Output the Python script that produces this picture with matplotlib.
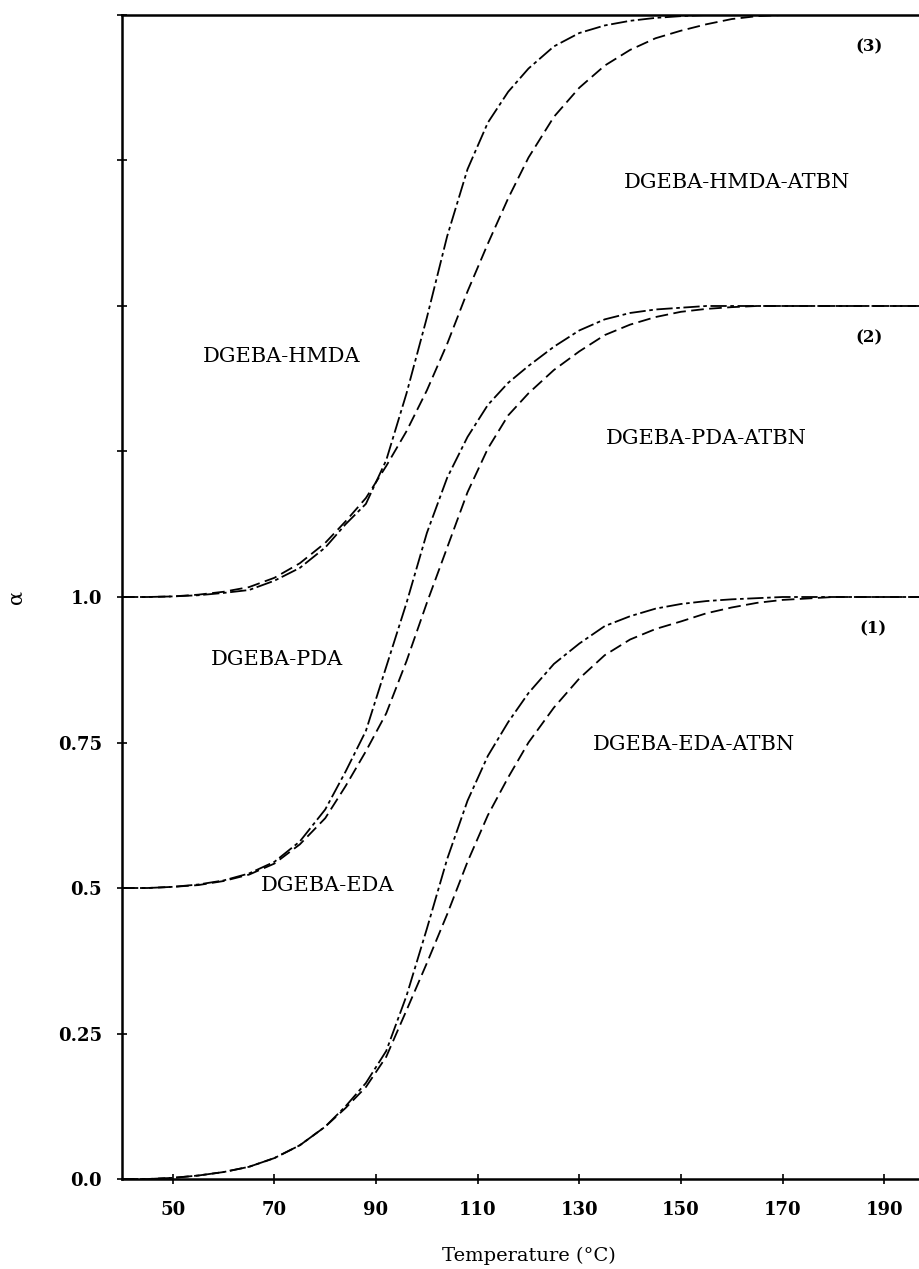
import matplotlib
matplotlib.use('Agg')
import matplotlib.pyplot as plt
import numpy as np

# temperature grid (deg C) the curves were read at
temps = [40, 45, 50, 55, 60, 65, 70, 75, 80, 84, 88, 92, 96, 100, 104, 108,
         112, 116, 120, 125, 130, 135, 140, 145, 150, 155, 160, 165, 170, 180, 190, 200]

# conversion curves, each plotted with its own vertical offset
eda = [0, 0, 0.002, 0.006, 0.012, 0.021, 0.036, 0.058, 0.09, 0.125, 0.165, 0.22, 0.315, 0.43,
       0.55, 0.65, 0.727, 0.785, 0.835, 0.885, 0.92, 0.95, 0.967, 0.98, 0.988, 0.993, 0.996,
       0.998, 1.0, 1.0, 1.0, 1.0]
eda_atbn = [0, 0, 0.002, 0.006, 0.012, 0.021, 0.036, 0.058, 0.09, 0.122, 0.158, 0.21, 0.29, 0.371,
            0.455, 0.545, 0.625, 0.69, 0.75, 0.81, 0.86, 0.9, 0.927, 0.945, 0.958, 0.972, 0.982,
            0.99, 0.995, 1.0, 1.0, 1.0]
pda = [0, 0, 0.002, 0.006, 0.013, 0.025, 0.045, 0.08, 0.135, 0.2, 0.27, 0.38, 0.49, 0.61,
       0.705, 0.775, 0.83, 0.868, 0.897, 0.93, 0.958, 0.977, 0.988, 0.994, 0.997, 1.0, 1.0,
       1.0, 1.0, 1.0, 1.0, 1.0]
pda_atbn = [0, 0, 0.002, 0.005, 0.012, 0.023, 0.042, 0.075, 0.12, 0.175, 0.235, 0.3, 0.39, 0.49,
            0.585, 0.68, 0.755, 0.812, 0.85, 0.89, 0.922, 0.95, 0.968, 0.981, 0.99, 0.995, 0.998,
            1.0, 1.0, 1.0, 1.0, 1.0]
hmda = [0, 0, 0.001, 0.003, 0.007, 0.012, 0.028, 0.05, 0.085, 0.125, 0.16, 0.235, 0.35, 0.48,
        0.62, 0.735, 0.815, 0.868, 0.908, 0.946, 0.969, 0.982, 0.99, 0.995, 0.998, 1.0, 1.0,
        1.0, 1.0, 1.0, 1.0, 1.0]
hmda_atbn = [0, 0, 0.001, 0.004, 0.009, 0.017, 0.033, 0.058, 0.093, 0.13, 0.17, 0.225, 0.285, 0.355,
             0.435, 0.525, 0.607, 0.685, 0.755, 0.825, 0.875, 0.913, 0.94, 0.96, 0.973, 0.984, 0.993,
             0.998, 1.0, 1.0, 1.0, 1.0]

offsets = [0.0, 0.5, 1.0]
xticks = [50, 70, 90, 110, 130, 150, 170, 190]
yticks = [0, 0.25, 0.5, 0.75, 1.0, 1.25, 1.5, 1.75, 2.0]
ytick_labels = ['0.0', '0.25', '0.5', '0.75', '1.0', '', '', '', '']

fig = plt.figure(figsize=(9.2, 12.69), dpi=100)
# axis runs 40-200 but the right edge is cut off like the scanned page
ax = fig.add_axes([0.1326, 0.0709, 0.8837, 0.9173])

T = np.array(temps)
pairs = [(eda, eda_atbn), (pda, pda_atbn), (hmda, hmda_atbn)]
for off, (pure, atbn) in zip(offsets, pairs):
    ax.plot(T, np.array(pure) + off, color='black', lw=1.3, ls=(0, (9, 2, 2, 2)))
    ax.plot(T, np.array(atbn) + off, color='black', lw=1.3, ls=(0, (7, 3)))

ax.set_xlim(40, 200)
ax.set_ylim(0, 2.0)

lab = dict(family='DejaVu Serif', fontsize=15, ha='center', va='center')
num = dict(family='DejaVu Serif', fontsize=12, fontweight='bold', ha='center', va='center')
ax.text(161, 1.713, 'DGEBA-HMDA-ATBN', **lab)
ax.text(71.5, 1.414, 'DGEBA-HMDA', **lab)
ax.text(155, 1.273, 'DGEBA-PDA-ATBN', **lab)
ax.text(70.5, 0.892, 'DGEBA-PDA', **lab)
ax.text(152.5, 0.747, 'DGEBA-EDA-ATBN', **lab)
ax.text(80.5, 0.505, 'DGEBA-EDA', **lab)
ax.text(187, 1.945, '(3)', **num)
ax.text(187, 1.445, '(2)', **num)
ax.text(187.8, 0.945, '(1)', **num)

ax.set_xticks(xticks)
ax.set_xticklabels([str(t) for t in xticks])
ax.set_yticks(yticks)
ax.set_yticklabels(ytick_labels)
ax.tick_params(direction='inout', length=7, width=1.2, labelsize=13)
ax.tick_params(axis='x', pad=12)
ax.tick_params(axis='y', pad=11)
for t in ax.get_xticklabels() + ax.get_yticklabels():
    t.set_family('DejaVu Serif')
    t.set_fontweight('bold')

ax.set_xlabel('Temperature (°C)', family='DejaVu Serif', fontsize=14, labelpad=20)
ax.set_ylabel('α', family='DejaVu Serif', fontsize=15)
ax.yaxis.set_label_coords(-0.118, 0.5)

for s in ['left', 'bottom', 'top']:
    ax.spines[s].set_linewidth(1.8)
ax.spines['right'].set_visible(False)

fig.savefig('out.png', dpi=100)
